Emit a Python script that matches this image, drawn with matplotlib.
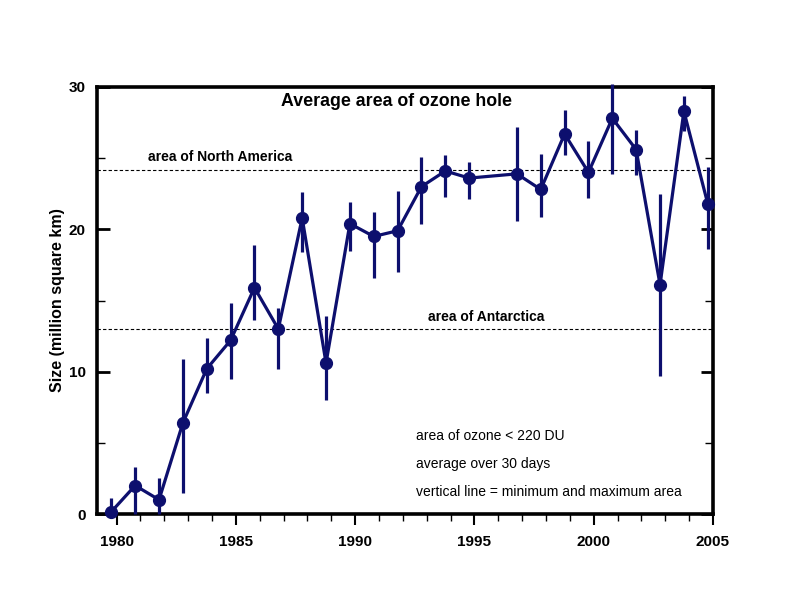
import matplotlib
matplotlib.use("Agg")
import matplotlib.pyplot as plt
from matplotlib.ticker import MultipleLocator

plt.rcParams['font.family'] = ['Liberation Sans', 'DejaVu Sans']

years = [1979, 1980, 1981, 1982, 1983, 1984, 1985, 1986, 1987, 1988, 1989,
         1990, 1991, 1992, 1993, 1994, 1996, 1997, 1998, 1999, 2000, 2001,
         2002, 2003, 2004]
mean_area = [0.16, 2.0, 1.0, 6.4, 10.2, 12.2, 15.9, 13.0, 20.8, 10.6, 20.4,
             19.5, 19.9, 23.0, 24.1, 23.6, 23.9, 22.8, 26.7, 24.0, 27.8, 25.6,
             16.1, 28.3, 21.8]
min_area = [0.0, 0.0, 0.0, 1.5, 8.5, 9.5, 13.6, 10.2, 18.4, 8.0, 18.5,
            16.6, 17.0, 20.4, 22.3, 22.1, 20.6, 20.9, 25.2, 22.2, 23.9, 23.8,
            9.7, 26.9, 18.6]
max_area = [1.15, 3.3, 2.5, 10.9, 12.4, 14.8, 18.9, 14.5, 22.6, 13.9, 21.9,
            21.2, 22.7, 25.1, 25.2, 24.7, 27.2, 25.3, 28.4, 26.2, 30.2, 27.0,
            22.5, 29.4, 24.4]
north_america = 24.2
antarctica = 13.0
x_offset = 0.78  # data taken late in each year (Sep-Oct)

color = '#0d0f6e'

fig = plt.figure(figsize=(7.92, 6.11), dpi=100)
ax = fig.add_axes([97/792, 1-514/611, (713-97)/792, (514-87)/611])

xs = [y + x_offset for y in years]
for x, lo, hi in zip(xs, min_area, max_area):
    ax.plot([x, x], [lo, hi], color=color, lw=2.3, solid_capstyle='butt', clip_on=False, zorder=3)
ax.plot(xs, mean_area, color=color, lw=2.3, marker='o', markersize=8.5, clip_on=False, zorder=4)

ax.axhline(north_america, color='black', lw=0.8, ls=(0, (3, 2)), zorder=1)
ax.axhline(antarctica, color='black', lw=0.8, ls=(0, (3, 2)), zorder=1)

ax.set_xlim(1979.18, 2005)
ax.set_ylim(0, 30)

for s in ax.spines.values():
    s.set_linewidth(2.6)

ax.xaxis.set_major_locator(MultipleLocator(5))
ax.xaxis.set_minor_locator(MultipleLocator(1))
ax.yaxis.set_major_locator(MultipleLocator(10))
ax.yaxis.set_minor_locator(MultipleLocator(5))
ax.tick_params(axis='x', which='major', direction='out', length=8, width=1.5, pad=7,
               labelsize=11, top=False)
ax.tick_params(axis='x', which='minor', direction='out', length=5, width=1, top=False)
ax.tick_params(axis='y', which='major', direction='in', length=9, width=2, pad=8,
               labelsize=11, left=True, right=True)
ax.tick_params(axis='y', which='minor', direction='in', length=6, width=1, left=True, right=True)
for lab in ax.get_xticklabels() + ax.get_yticklabels():
    lab.set_fontweight('bold')

ax.set_ylabel('Size (million square km)', fontsize=11.5, fontweight='bold', labelpad=3)

ax.text(0.487, 0.965, 'Average area of ozone hole', transform=ax.transAxes,
        ha='center', va='center', fontsize=12.8, fontweight='bold')
ax.text(0.083, 0.836, 'area of North America', transform=ax.transAxes,
        ha='left', va='center', fontsize=10, fontweight='bold')
ax.text(0.537, 0.461, 'area of Antarctica', transform=ax.transAxes,
        ha='left', va='center', fontsize=10, fontweight='bold')
notes = ['area of ozone < 220 DU', 'average over 30 days',
         'vertical line = minimum and maximum area']
for txt, yy in zip(notes, [0.183, 0.117, 0.052]):
    ax.text(0.518, yy, txt, transform=ax.transAxes, ha='left', va='center', fontsize=10)

fig.savefig('out.png', dpi=100)
